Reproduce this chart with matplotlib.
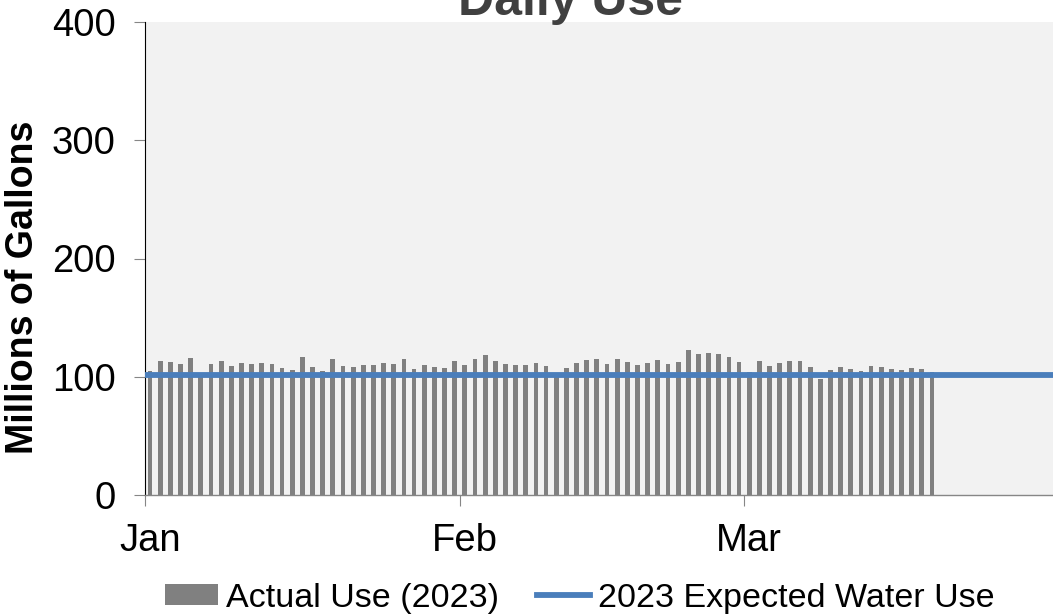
import matplotlib
matplotlib.use("Agg")
import matplotlib.pyplot as plt
import numpy as np
import pandas as pd
from matplotlib.patches import Patch
from matplotlib.lines import Line2D

plt.rcParams['font.family'] = ['Liberation Sans', 'DejaVu Sans']

# ---- data ----
start_date = "2023-01-01"
actual_use = [104.8, 113.6, 112.7, 111.0, 116.0, 100.0, 111.0, 113.0, 109.0, 111.6,
              111.0, 111.6, 110.7, 107.6, 105.6, 116.4, 108.5, 105.0, 114.7, 109.0,
              107.9, 110.2, 110.2, 111.6, 110.5, 114.7, 106.5, 109.6, 108.5, 107.6,
              113.0, 110.2, 115.3, 118.0, 113.6, 110.5, 110.2, 110.2, 111.9, 109.0,
              100.0, 107.6, 111.9, 114.1, 115.3, 110.5, 115.3, 112.4, 110.2, 111.6,
              114.1, 110.5, 112.4, 122.3, 119.5, 120.0, 118.9, 116.9, 112.4, 104.2,
              113.6, 108.9, 111.6, 113.3, 113.6, 107.9, 98.0, 105.9, 108.5, 106.8,
              105.0, 109.3, 108.2, 106.2, 105.9, 107.3, 106.8, 104.2]
expected_use = 101.5
month_ticks = ["2023-01-01", "2023-02-01", "2023-03-01"]
month_labels = ["Jan", "Feb", "Mar"]
y_ticks = [0, 100, 200, 300, 400]
x_start, x_end = "2023-01-01", "2023-03-31 10:00"

half_day = pd.Timedelta(hours=12)
dates = pd.date_range(start_date, periods=len(actual_use), freq="D") + half_day

fig = plt.figure(figsize=(10.53, 6.15), dpi=100)
ax = fig.add_axes([145/1053, 1-495/615, 1-145/1053, (495-22)/615])
ax.set_facecolor("#F2F2F2")

ax.bar(dates, actual_use, width=0.47, color="#808080", zorder=2)
ax.axhline(expected_use, color="#4A7EBB", linewidth=4.2, zorder=3)

ax.set_xlim(pd.Timestamp(x_start), pd.Timestamp(x_end))
ax.set_ylim(0, 400)
ax.set_yticks(y_ticks)
# tick marks at month starts, labels centred on the first day
ax.set_xticks([pd.Timestamp(d) for d in month_ticks])
ax.set_xticklabels([])
ax.set_xticks([pd.Timestamp(d) + half_day for d in month_ticks], minor=True)
ax.set_xticklabels(month_labels, minor=True)

for s in ["top", "right"]:
    ax.spines[s].set_visible(False)
ax.spines["left"].set_color("#000000")
ax.spines["left"].set_linewidth(0.8)
ax.spines["bottom"].set_color("#868686")
ax.spines["bottom"].set_linewidth(1.0)

ax.tick_params(axis="y", direction="out", length=8, width=0.8, color="#868686", labelsize=27.5, pad=13)
ax.tick_params(axis="x", which="major", direction="out", length=8, width=0.8, color="#868686")
ax.tick_params(axis="x", which="minor", length=0, labelsize=27.5, pad=20.5)

fig.text(33/1053, 1-287/615, "Millions of Gallons", rotation=90, rotation_mode="anchor",
         ha="center", va="baseline", fontsize=27, fontweight="bold")

fig.text(570/1053, 1-15/615, "Daily Use", ha="center", va="baseline",
         fontsize=36, fontweight="bold", color="#404040")

handles = [Patch(facecolor="#808080", edgecolor="none"),
           Line2D([0], [0], color="#4A7EBB", linewidth=4.2)]
fig.legend(handles, ["Actual Use (2023)", "2023 Expected Water Use"],
           loc="center", bbox_to_anchor=(580/1053, 1-598/615), ncol=2, frameon=False,
           fontsize=24.5, handlelength=1.55, handleheight=0.55, handletextpad=0.25,
           columnspacing=1.1, borderaxespad=0, borderpad=0)

fig.savefig("out.png", dpi=100)
